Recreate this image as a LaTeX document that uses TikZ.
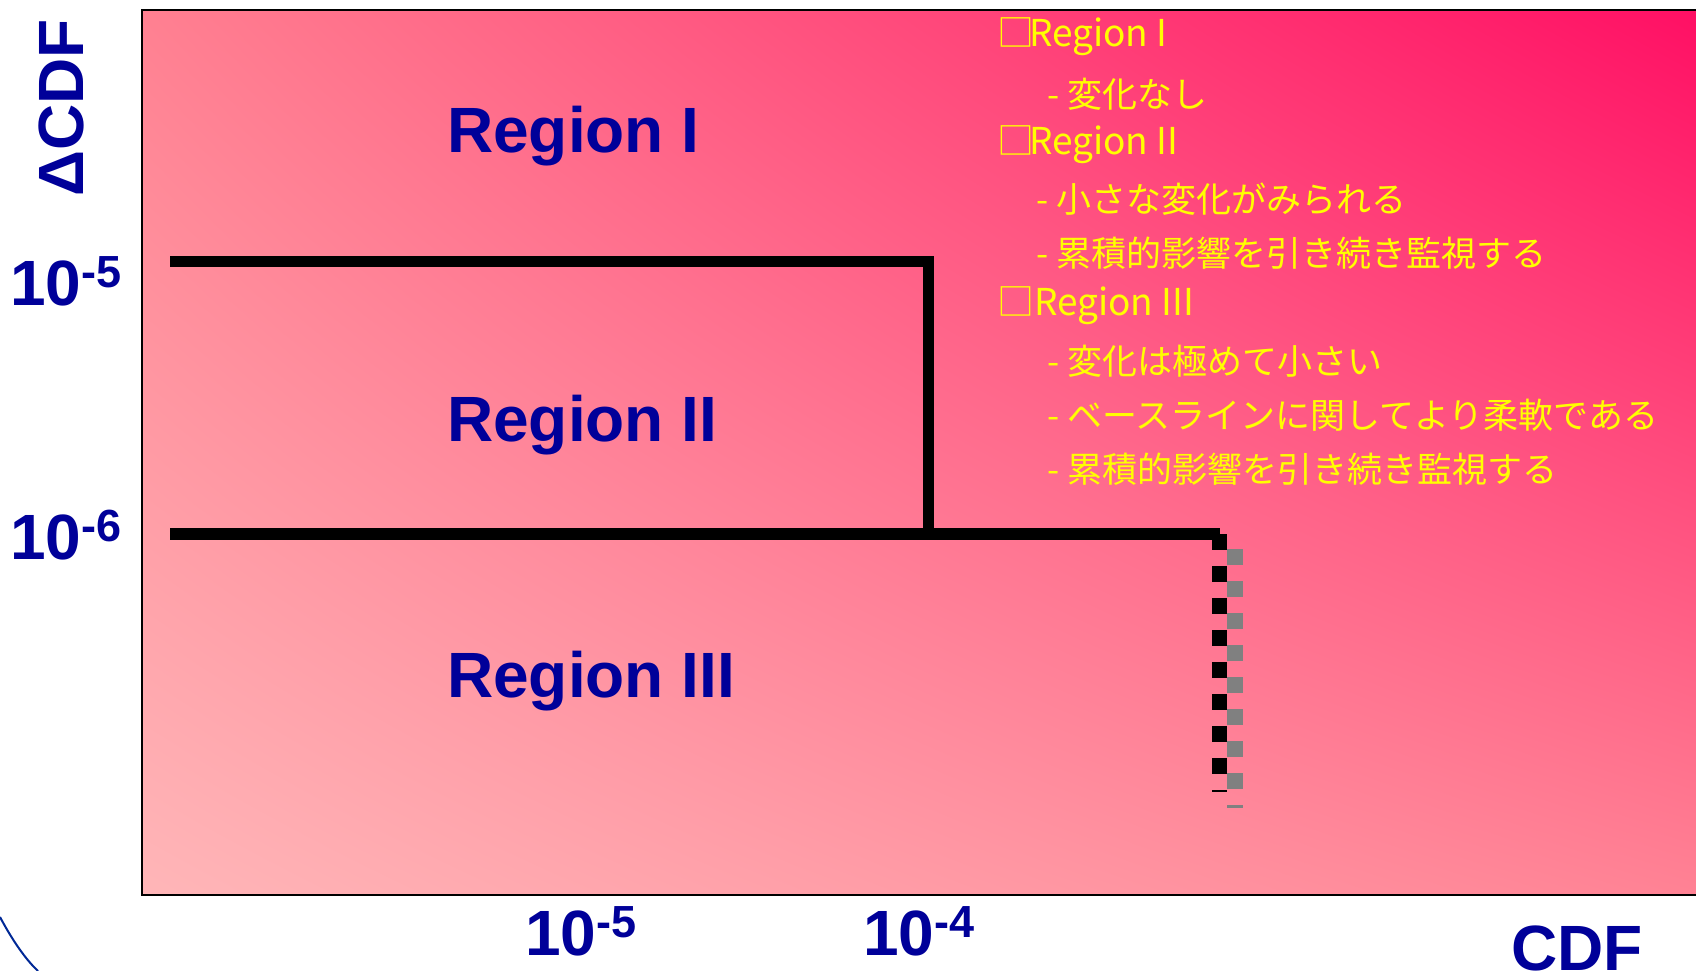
\documentclass[tikz,border=0pt]{standalone}
\usepackage{fontspec}
\usetikzlibrary{shadings}
\setmainfont{Liberation Sans}
\newfontfamily\jpfont{Noto Sans CJK JP}
\definecolor{navy}{RGB}{0,0,153}
\definecolor{arcblue}{RGB}{0,40,150}
\definecolor{yel}{RGB}{255,255,0}
\definecolor{cUL}{RGB}{255,128,145}
\definecolor{cUR}{RGB}{255,15,100}
\definecolor{cLL}{RGB}{255,182,184}
\definecolor{cLR}{RGB}{255,130,148}
\definecolor{shadowgray}{RGB}{128,128,128}
\newcommand{\tenpow}[1]{10\raisebox{18pt}{\fontsize{45}{45}\selectfont -#1}}
\tikzset{
  axlabel/.style={text=navy, inner sep=0, font=\fontsize{64}{64}\selectfont\bfseries},
  reglabel/.style={text=navy, inner sep=0, anchor=base west, font=\fontsize{64}{64}\selectfont\bfseries},
  jt/.style={anchor=west, inner sep=0, text=yel, font=\jpfont\fontsize{35}{35}\selectfont},
  jh/.style={anchor=west, inner sep=0, text=yel, font=\jpfont\fontsize{37}{37}\selectfont},
  border/.style={draw=black, line width=2.2pt},
  bound/.style={draw=black, line width=11.5pt},
  dotline/.style={line width=15.5pt, dash pattern=on 16pt off 16pt},
}
\begin{document}
\begin{tikzpicture}[x=1pt,y=-1pt]
\useasboundingbox (0,0) rectangle (1696,971);
\fill[white] (0,0) rectangle (1696,971);
% background panel
\shade[upper left=cUL, upper right=cUR, lower left=cLL, lower right=cLR] (142,10) rectangle (1700,895);
\draw[border] (1700,10) -- (142,10) -- (142,895) -- (1700,895);
% boundary lines
\coordinate (a1) at (170,261.5);
\coordinate (a2) at (928.5,261.5);
\coordinate (v1) at (928.5,256);
\coordinate (b1) at (170,534);
\coordinate (b2) at (928.5,534);
\coordinate (b3) at (1219.5,534);
\coordinate (c1) at (1219.5,534);
\coordinate (c2) at (1219.5,792);
\coordinate (d1) at (1235,549);
\coordinate (d2) at (1235,808);
\draw[bound] (a1) -- (a2);
\draw[bound] (v1) -- (b2);
\draw[bound] (b1) -- (b3);
\draw[dotline, shadowgray] (d1) -- (d2);
\draw[dotline, black] (c1) -- (c2);
% arc at lower left
\draw[arcblue, line width=2pt] (0,917) .. controls (8,932) and (22,956) .. (38,971);
% axis labels
\node[axlabel, rotate=90, anchor=base] (ylab) at (83,108) {ΔCDF};
\node[axlabel, anchor=base west] (y5) at (10,305) {\tenpow{5}};
\node[axlabel, anchor=base west] (y6) at (10,559) {\tenpow{6}};
\node[axlabel, anchor=base west] (x5) at (525,955) {\tenpow{5}};
\node[axlabel, anchor=base west] (x4) at (863,955) {\tenpow{4}};
\node[axlabel, anchor=base west] (xlab) at (1511,970) {CDF};
% region labels
\node[reglabel] (r1) at (447,152) {Region I};
\node[reglabel] (r2) at (447,441) {Region II};
\node[reglabel] (r3) at (447,697) {Region III};
% legend text
\node[jh] (t1) at (997,37) {□\kern-5pt Region I};
\node[jt] (t2) at (1047,94) {- 変化なし};
\node[jh] (t3) at (997,145) {□\kern-5pt Region II};
\node[jt] (t4) at (1036,199) {- 小さな変化がみられる};
\node[jt] (t5) at (1036,253) {- 累積的影響を引き続き監視する};
\node[jh] (t6) at (997,306) {□Region III};
\node[jt] (t7) at (1047,361) {- 変化は極めて小さい};
\node[jt] (t8) at (1047,415) {- ベースラインに関してより柔軟である};
\node[jt] (t9) at (1047,469) {- 累積的影響を引き続き監視する};
\end{tikzpicture}
\end{document}
